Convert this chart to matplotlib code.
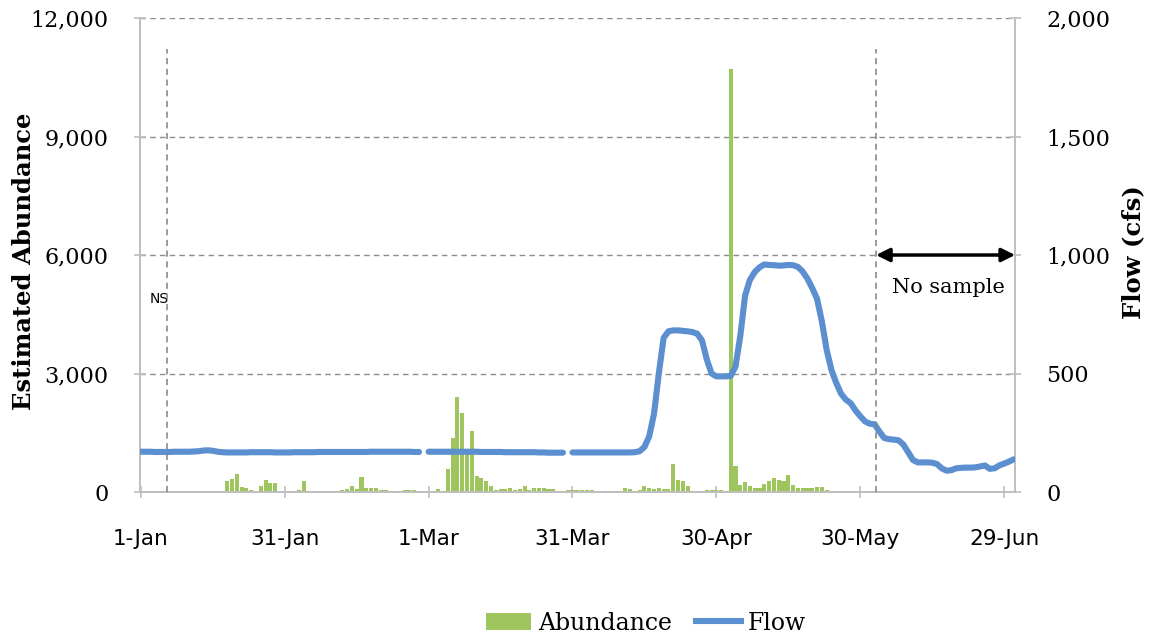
import numpy as np
import matplotlib
matplotlib.use("Agg")
import matplotlib.pyplot as plt
from matplotlib.patches import Patch
from matplotlib.lines import Line2D

# daily values, day 0 = 1-Jan (leap year), last day = 1-Jul
abundance = [
    0, 0, 0, 0, 0, 0, 0, 0, 0, 0,
    0, 0, 0, 0, 0, 0, 0, 0, 280, 330,
    450, 120, 90, 40, 0, 160, 300, 240, 240, 20,
    0, 10, 20, 60, 290, 0, 0, 0, 0, 0,
    20, 20, 40, 70, 150, 70, 370, 100, 90, 110,
    60, 50, 20, 10, 30, 60, 60, 40, 20, 0,
    0, 10, 80, 30, 580, 1380, 2400, 2000, 1000, 1550,
    400, 360, 280, 150, 60, 70, 80, 90, 60, 80,
    150, 40, 90, 100, 90, 80, 70, 20, 30, 40,
    50, 40, 50, 40, 40, 30, 20, 0, 0, 10,
    20, 100, 80, 30, 40, 140, 90, 80, 90, 70,
    80, 720, 310, 270, 140, 30, 10, 20, 50, 60,
    40, 50, 20, 10700, 650, 180, 250, 140, 90, 90,
    200, 280, 355, 310, 270, 420, 185, 100, 100, 100,
    100, 120, 120, 60, 20, 15, 10, 0, 0, 0,
    0, 0, 0, 0, 0, 0, 0, 0, 0, 0,
    0, 0, 0, 0, 0, 0, 0, 0, 0, 0,
    0, 0, 0, 0, 0, 0, 0, 0, 0, 0,
    0, 0, 0,
]

nan = np.nan
flow = [
    170, 170, 170, 169, 169, 169, 169, 170, 170, 170,
    170, 171, 172, 175, 176, 174, 170, 168, 167, 167,
    167, 167, 167, 168, 168, 168, 168, 168, 167, 167,
    167, 167, 168, 168, 168, 168, 168, 169, 169, 169,
    169, 169, 169, 169, 169, 169, 169, 169, 170, 170,
    170, 170, 170, 170, 170, 170, 170, 169, 169, nan,
    170, 170, 170, 170, 170, 170, 170, 170, 170, 170,
    170, 169, 169, 169, 169, 169, 168, 168, 168, 168,
    168, 168, 168, 167, 167, 166, 166, 166, 166, nan,
    167, 167, 167, 167, 167, 167, 167, 167, 167, 167,
    167, 167, 167, 168, 172, 190, 235, 330, 500, 650,
    678, 682, 682, 680, 678, 675, 668, 640, 560, 500,
    488, 488, 488, 490, 530, 660, 830, 895, 928, 948,
    960, 958, 957, 955, 956, 958, 957, 950, 930, 900,
    860, 815, 720, 600, 515, 460, 415, 390, 375, 345,
    320, 298, 288, 286, 255, 228, 223, 221, 218, 200,
    168, 135, 125, 125, 125, 124, 118, 100, 90, 92,
    100, 102, 103, 103, 104, 108, 112, 98, 100, 112,
    120, 128, 138,
]

tick_days = [0, 30, 60, 90, 120, 150, 180]
tick_labels = ["1-Jan", "31-Jan", "1-Mar", "31-Mar", "30-Apr", "30-May", "29-Jun"]
no_sample_days = [5.5, 153.3]

days = np.arange(len(abundance))

serif = "DejaVu Serif"
sans = "DejaVu Sans"
green = "#9fc55f"
blue = "#5b8fd0"
axis_gray = "#bfbfbf"

fig = plt.figure(figsize=(11.5, 6.38), dpi=100)
ax = fig.add_axes([0.1217, 0.2288, 0.761, 0.743])
ax2 = ax.twinx()

ax.bar(days, abundance, width=0.85, color=green, zorder=2)
ax2.plot(days, flow, color=blue, lw=4.4, solid_capstyle="round", zorder=3)

ax.set_xlim(-0.2, 182.3)
ax.set_ylim(0, 12000)
ax2.set_ylim(0, 2000)
ax.set_yticks(np.arange(0, 12001, 3000))
ax2.set_yticks(np.arange(0, 2001, 500))
ax.set_yticklabels([f"{v:,}" for v in range(0, 12001, 3000)], fontfamily=serif, fontsize=16)
ax2.set_yticklabels([f"{v:,}" for v in range(0, 2001, 500)], fontfamily=serif, fontsize=16)
ax.set_xticks(tick_days)
ax.set_xticklabels(tick_labels, fontfamily=sans, fontsize=15.5)

ax.yaxis.grid(True, ls=(0, (4, 3)), color="#8c8c8c", lw=1.0)
ax.set_axisbelow(True)

for a in (ax, ax2):
    for s in a.spines.values():
        s.set_color(axis_gray)
        s.set_linewidth(1.3)
    a.spines["top"].set_visible(False)
ax.tick_params(axis="x", direction="inout", length=9, width=1.2, color=axis_gray, pad=22)
ax.tick_params(axis="y", direction="inout", length=9, width=1.2, color=axis_gray, pad=18)
ax2.tick_params(axis="y", direction="inout", length=9, width=1.2, color=axis_gray, pad=18)

fig.text(0.021, 0.59, "Estimated Abundance", fontfamily=serif, fontsize=17.5, fontweight="bold",
         rotation=90, ha="center", va="center")
fig.text(0.985, 0.605, "Flow (cfs)", fontfamily=serif, fontsize=17.5, fontweight="bold",
         rotation=90, ha="center", va="center")

# no-sample markers
for d in no_sample_days:
    ax2.plot([d, d], [0, 1870], ls=(0, (4, 3)), color="#808080", lw=1.1, zorder=4)
ax2.annotate("", xy=(182.3, 1000), xytext=(no_sample_days[1], 1000),
             arrowprops=dict(arrowstyle="<|-|>", color="black", lw=2.5, mutation_scale=20,
                             shrinkA=0, shrinkB=0), zorder=5)
ax2.text(168.5, 865, "No sample", fontfamily=serif, fontsize=15, ha="center", va="center")
ax2.text(1.9, 815, "NS", fontfamily=sans, fontsize=10, ha="left", va="center")

handles = [Patch(facecolor=green, edgecolor="none"), Line2D([], [], color=blue, lw=4.4)]
fig.legend(handles, ["Abundance", "Flow"], loc="lower center", bbox_to_anchor=(0.562, -0.028),
           ncol=2, frameon=False, prop={"family": serif, "size": 17},
           handlelength=1.9, handletextpad=0.3, columnspacing=1.0)

fig.savefig("out.png", dpi=100)
